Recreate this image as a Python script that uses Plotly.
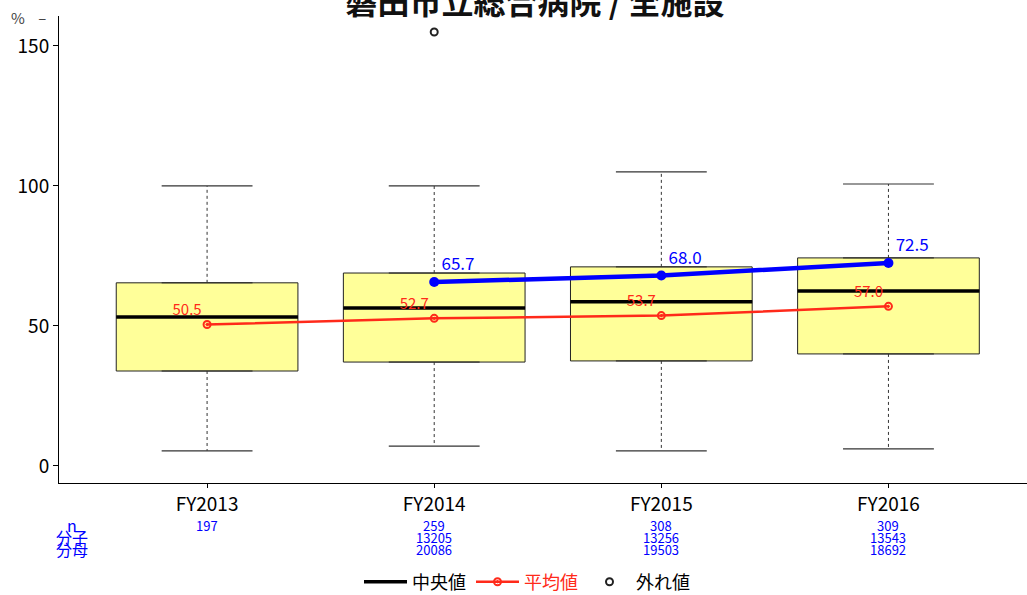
import plotly.graph_objects as go

# ---- data ----
categories = ["FY2013", "FY2014", "FY2015", "FY2016"]
q1 = [33.9, 37.1, 37.5, 40.0]
median = [53.2, 56.4, 58.6, 62.5]
q3 = [65.4, 68.9, 71.1, 74.3]
whisker_low = [5.4, 7.1, 5.4, 6.1]
whisker_high = [100.0, 100.0, 105.0, 100.7]
mean_vals = [50.5, 52.7, 53.7, 57.0]
overall_cats = ["FY2014", "FY2015", "FY2016"]
overall_vals = [65.7, 68.0, 72.5]
outlier_cats = ["FY2014"]
outlier_vals = [155.0]
n_vals = ["197", "259", "308", "309"]
numer_vals = ["", "13205", "13256", "13543"]
denom_vals = ["", "20086", "19503", "18692"]
y_tickvals = [0, 50, 100, 150]
y_ticktext = ["0", "50", "100", "150"]
unit_label = "%"
unit_value = 160

BOX_W = 0.8
CAP_W = 0.4
FONT = "Noto Sans CJK JP"

xs = list(range(len(categories)))
pos = {c: i for i, c in enumerate(categories)}

W, H = 1027, 595
PLOT_LEFT, PLOT_RIGHT = 59, 1027
PLOT_TOP, PLOT_BOTTOM = 16, 483


def py(pix):
    return (PLOT_BOTTOM - pix) / (PLOT_BOTTOM - PLOT_TOP)


def px(pix):
    return (pix - PLOT_LEFT) / (PLOT_RIGHT - PLOT_LEFT)


fig = go.Figure()

# boxes
fig.add_trace(go.Box(
    x=xs, q1=q1, median=median, q3=q3, lowerfence=q1, upperfence=q3,
    width=BOX_W, fillcolor="#FFFF99", line=dict(color="#222", width=1),
    boxpoints=False, showlegend=False, hoverinfo="skip",
))

# whiskers (dashed)
wx, wy = [], []
for i in xs:
    wx += [i, i, None, i, i, None]
    wy += [q3[i], whisker_high[i], None, q1[i], whisker_low[i], None]
fig.add_trace(go.Scatter(x=wx, y=wy, mode="lines",
                         line=dict(color="#333", width=1, dash="3px,3px"),
                         showlegend=False, hoverinfo="skip"))
# caps
cx, cy = [], []
for i in xs:
    cx += [i - CAP_W / 2, i + CAP_W / 2, None, i - CAP_W / 2, i + CAP_W / 2, None]
    cy += [whisker_high[i], whisker_high[i], None, whisker_low[i], whisker_low[i], None]
fig.add_trace(go.Scatter(x=cx, y=cy, mode="lines",
                         line=dict(color="#333", width=1.2),
                         showlegend=False, hoverinfo="skip"))

# median lines (legend: 中央値)
mx, my = [], []
for i in xs:
    mx += [i - BOX_W / 2, i + BOX_W / 2, None]
    my += [median[i], median[i], None]
fig.add_trace(go.Scatter(x=mx, y=my, mode="lines", name="中央値",
                         line=dict(color="black", width=3.5), legendrank=1))

# mean line
fig.add_trace(go.Scatter(
    x=xs, y=mean_vals, mode="lines+markers+text",
    name="<span style='color:#FF2A1A'>平均値</span>",
    line=dict(color="#FF2A1A", width=2.5),
    marker=dict(symbol="circle-open-dot", size=7, color="#FF2A1A", line=dict(width=2)),
    text=[f"{v:.1f}" for v in mean_vals], textposition="top left",
    textfont=dict(color="#FF2A1A", size=15, family=FONT),
    legendrank=2,
))

# overall (blue) line
fig.add_trace(go.Scatter(
    x=[pos[c] for c in overall_cats], y=overall_vals, mode="lines+markers+text",
    line=dict(color="#0000FF", width=4.5),
    marker=dict(size=10, color="#0000FF"),
    text=[f"{v:.1f}" for v in overall_vals], textposition="top right",
    textfont=dict(color="#0000FF", size=17, family=FONT),
    showlegend=False,
))

# outliers
fig.add_trace(go.Scatter(
    x=[pos[c] for c in outlier_cats], y=outlier_vals, mode="markers", name="外れ値",
    marker=dict(symbol="circle-open", size=7, color="#222", line=dict(width=2)),
    legendrank=3,
))

# unit label at top of y axis
fig.add_annotation(x=px(9), xref="paper", y=unit_value, yref="y",
                   text=unit_label + "    –", showarrow=False, xanchor="left",
                   yanchor="middle", font=dict(size=15, color="#444", family=FONT))

# bottom count annotations
rows = [("n", n_vals, 525), ("分子", numer_vals, 537), ("分母", denom_vals, 549)]
for label, vals, pix in rows:
    fig.add_annotation(x=px(72), xref="paper", y=py(pix), yref="paper", text=label,
                       showarrow=False, font=dict(color="#0000FF", size=16, family=FONT),
                       xanchor="center", yanchor="middle")
    for i, v in enumerate(vals):
        if v:
            fig.add_annotation(x=i, xref="x", y=py(pix), yref="paper", text=v,
                               showarrow=False,
                               font=dict(color="#0000FF", size=13, family=FONT),
                               xanchor="center", yanchor="middle")

fig.update_layout(
    width=W, height=H,
    margin=dict(l=PLOT_LEFT, r=W - PLOT_RIGHT, t=PLOT_TOP, b=H - PLOT_BOTTOM,
                autoexpand=False),
    paper_bgcolor="white", plot_bgcolor="white",
    font=dict(family=FONT, color="black"),
    title=dict(text="<b>磐田市立総合病院 / 全施設</b>", x=535 / W, xanchor="center",
               y=1 - 3 / H, yanchor="middle", font=dict(size=32, color="#111")),
    xaxis=dict(range=[-0.652, 3.61], tickvals=xs, ticktext=categories,
               showline=True, linecolor="black", linewidth=1, showgrid=False,
               zeroline=False, ticks="outside", ticklen=4, tickcolor="black",
               tickfont=dict(size=19), automargin=False),
    yaxis=dict(range=[-6.1, 160.7], tickvals=y_tickvals, ticktext=y_ticktext,
               showline=True, linecolor="black", linewidth=1, showgrid=False,
               zeroline=False, ticks="outside", ticklen=5, tickcolor="black",
               tickfont=dict(size=19), automargin=False),
    legend=dict(orientation="h", xref="container", x=527 / W, xanchor="center",
                yref="container", y=1 - 582 / H, yanchor="middle",
                font=dict(size=18), itemwidth=43),
    showlegend=True,
)

fig.write_html("out.html", config={"displayModeBar": False},
               post_script="document.body.style.margin='0';document.body.style.padding='0';")
